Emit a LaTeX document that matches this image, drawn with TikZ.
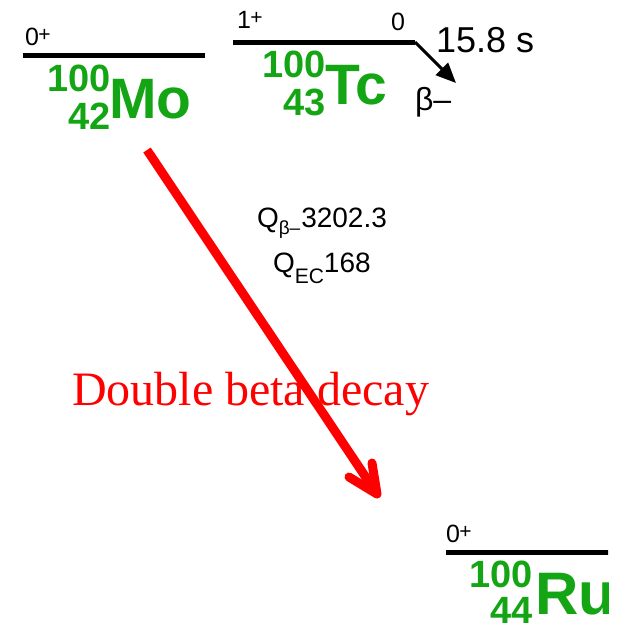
\documentclass[tikz,border=0pt]{standalone}
\usepackage{fontspec}
\setmainfont{Liberation Sans}
\newfontfamily\serifface{Liberation Serif}
\usetikzlibrary{arrows.meta}
\definecolor{nucgreen}{RGB}{20,165,20}
\definecolor{decayred}{RGB}{255,0,0}
\newcommand{\fs}[1]{\fontsize{#1}{#1}\selectfont}
\tikzset{
  every node/.style={inner sep=0pt, outer sep=0pt},
  level/.style={line width=5pt, black},
  spin/.style={anchor=base west, font=\fs{25}, text=black},
  symb/.style={anchor=base west, font=\fs{57}\bfseries, text=nucgreen},
  massnum/.style={anchor=base east, font=\fs{38}\bfseries, text=nucgreen},
  qtext/.style={anchor=base west, font=\fs{28}, text=black},
  dbarrow/.style={line width=9pt, decayred},
}
\newcommand{\spinplus}[1]{#1\kern-0.5pt\raisebox{4pt}{\fs{21}+}}
\begin{document}
\begin{tikzpicture}[x=1pt,y=-1pt]
\useasboundingbox (0,0) rectangle (628,635);
% Mo-100
\draw[level] (23,55) coordinate (moL) -- (205,55) coordinate (moR);
\node[spin] (mospin) at (25,45) {\spinplus{0}};
\node[massnum] (moA) at (111,91) {100};
\node[massnum] (moZ) at (111,129) {42};
\node[symb] (mo) at (109,118) {Mo};
% Tc-100
\draw[level] (233,42) coordinate (tcL) -- (415,42) coordinate (tcR);
\node[spin] (tcspin) at (237,28) {\spinplus{1}};
\node[spin, anchor=base east] (tczero) at (405,30) {0};
\coordinate (tcTip) at (456,83);
\draw[line width=3pt, -{Triangle[length=20pt,width=17pt]}] (tcR) -- (tcTip);
\node[anchor=base west, font=\fs{36}] (half) at (436,52) {15.8 s};
\node[anchor=base west, font=\fs{32}] (betam) at (415,110) {β–};
\node[massnum] (tcA) at (326,77) {100};
\node[massnum] (tcZ) at (326,115) {43};
\node[symb] (tc) at (325,104) {Tc};
% Q values
\node[qtext] (qb) at (257,227) {Q\raisebox{-7pt}{\fs{19}β–}\kern1pt3202.3};
\node[qtext] (qec) at (273,272) {Q\raisebox{-11pt}{\fs{21}EC}168};
% Ru-100
\begin{scope}
\clip (0,0) rectangle (608,635);
\draw[level] (446,552) coordinate (ruL) -- (640,552) coordinate (ruR);
\node[spin] (ruspin) at (446,542) {\spinplus{0}};
\node[massnum] (ruA) at (533,587) {100};
\node[massnum] (ruZ) at (533,623) {44};
\node[symb, font=\fs{60}\bfseries] (ru) at (535,614) {Ru};
\end{scope}
% Double beta decay
\node[anchor=base west, font=\serifface\fs{48}, text=decayred] (dbd) at (72,405) {Double beta decay};
\coordinate (dbS) at (147,150);
\coordinate (dbT) at (377,494);
\coordinate (dbB1) at (349,477);
\coordinate (dbB2) at (372,463);
\draw[dbarrow] (dbS) -- (dbT);
\draw[dbarrow, line cap=round, line join=round] (dbB1) -- (dbT) -- (dbB2);
\end{tikzpicture}
\end{document}
